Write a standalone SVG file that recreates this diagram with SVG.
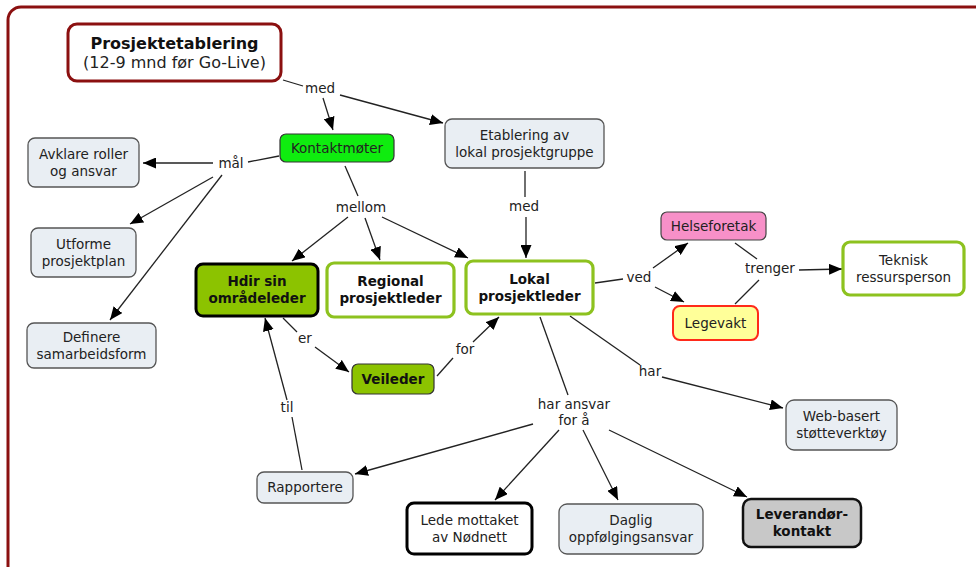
<svg xmlns="http://www.w3.org/2000/svg" width="976" height="567" viewBox="0 0 976 567">
<defs>
<marker id="ah" markerUnits="userSpaceOnUse" markerWidth="13" markerHeight="11" refX="13" refY="5.5" orient="auto">
<path d="M0,0 L13,5.5 L0,11 z" fill="#000"/>
</marker>
<style>
text{font-family:"DejaVu Sans","Liberation Sans",sans-serif;font-size:13.5px;fill:#222;text-anchor:middle}
.b{font-weight:bold;fill:#111}
.t{font-size:16px}
.lp{fill:#222}
.plain{fill:#e9eef3;stroke:#555;stroke-width:1.3}
.grn{fill:#fff;stroke:#8dc21f;stroke-width:3.2}
.lines line{stroke:#222;stroke-width:1.3;fill:none}
.arr{marker-end:url(#ah)}
</style>
</defs>
<rect x="0" y="0" width="976" height="567" fill="#fff"/>
<rect x="8" y="7" width="1000" height="580" rx="13" fill="none" stroke="#8b1010" stroke-width="3"/>

<g id="connectors" class="lines">
<line x1="283" y1="80" x2="303" y2="86"/>
<line class="arr" x1="323" y1="98" x2="333" y2="130"/>
<line class="arr" x1="340" y1="95" x2="443" y2="123"/>
<line x1="279" y1="156" x2="248" y2="162"/>
<line class="arr" x1="213" y1="163" x2="143" y2="163"/>
<line class="arr" x1="213" y1="177" x2="130" y2="224"/>
<line class="arr" x1="222" y1="175" x2="110" y2="320"/>
<line x1="345" y1="166" x2="358" y2="196"/>
<line class="arr" x1="348" y1="217" x2="292" y2="261"/>
<line class="arr" x1="365" y1="218" x2="380" y2="260"/>
<line class="arr" x1="382" y1="217" x2="468" y2="258"/>
<line x1="525" y1="171" x2="525" y2="197"/>
<line class="arr" x1="526" y1="217" x2="526" y2="258"/>
<line x1="595" y1="283" x2="623" y2="279"/>
<line class="arr" x1="653" y1="268" x2="688" y2="243"/>
<line class="arr" x1="655" y1="287" x2="684" y2="302"/>
<line x1="735" y1="243" x2="757" y2="259"/>
<line x1="735" y1="304" x2="759" y2="280"/>
<line class="arr" x1="799" y1="270" x2="842" y2="269"/>
<line x1="283" y1="318" x2="297" y2="332"/>
<line class="arr" x1="315" y1="347" x2="349" y2="372"/>
<line x1="437" y1="376" x2="453" y2="358"/>
<line class="arr" x1="473" y1="342" x2="499" y2="317"/>
<line x1="302" y1="470" x2="292" y2="417"/>
<line class="arr" x1="287" y1="400" x2="265" y2="318"/>
<line x1="570" y1="316" x2="640" y2="365"/>
<line class="arr" x1="662" y1="377" x2="783" y2="408"/>
<line x1="540" y1="317" x2="568" y2="395"/>
<line class="arr" x1="533" y1="424" x2="355" y2="474"/>
<line class="arr" x1="559" y1="430" x2="495" y2="500"/>
<line class="arr" x1="583" y1="430" x2="618" y2="500"/>
<line class="arr" x1="609" y1="430" x2="747" y2="497"/>
</g>

<g id="linking-phrases">
<text class="lp" x="320" y="93">med</text>
<text class="lp" x="231" y="168">mål</text>
<text class="lp" x="361" y="212">mellom</text>
<text class="lp" x="524" y="211">med</text>
<text class="lp" x="639" y="282">ved</text>
<text class="lp" x="770" y="273">trenger</text>
<text class="lp" x="305" y="343">er</text>
<text class="lp" x="465" y="354">for</text>
<text class="lp" x="287" y="412">til</text>
<text class="lp" x="650" y="376">har</text>
<text class="lp" x="574" y="409">har ansvar</text>
<text class="lp" x="574" y="425">for å</text>
</g>

<g id="prosjektetablering">
<rect x="68" y="24" width="213" height="57" rx="9" fill="#fff" stroke="#8b1010" stroke-width="3"/>
<text class="b t" x="174.5" y="49">Prosjektetablering</text>
<text class="t" x="174.5" y="68">(12-9 mnd før Go-Live)</text>
</g>
<g id="kontaktmoter">
<rect x="280" y="134" width="114" height="28" rx="6" fill="#0fec0f" stroke="#333" stroke-width="1.2"/>
<text x="337" y="153">Kontaktmøter</text>
</g>
<g id="etablering">
<rect class="plain" x="445" y="119" width="159" height="49" rx="7"/>
<text x="524.5" y="139.5">Etablering av</text>
<text x="524.5" y="156.5">lokal prosjektgruppe</text>
</g>
<g id="avklare">
<rect class="plain" x="28" y="138" width="111" height="49" rx="7"/>
<text x="83.5" y="158.5">Avklare roller</text>
<text x="83.5" y="175.5">og ansvar</text>
</g>
<g id="utforme">
<rect class="plain" x="31" y="228" width="105" height="49" rx="7"/>
<text x="83.5" y="248.5">Utforme</text>
<text x="83.5" y="265.5">prosjektplan</text>
</g>
<g id="definere">
<rect class="plain" x="27" y="323" width="129" height="45" rx="7"/>
<text x="91.5" y="341.5">Definere</text>
<text x="91.5" y="358.5">samarbeidsform</text>
</g>
<g id="hdir">
<rect x="196" y="264" width="122" height="52" rx="7" fill="#8cc300" stroke="#000" stroke-width="3"/>
<text class="b" x="257" y="286">Hdir sin</text>
<text class="b" x="257" y="303">områdeleder</text>
</g>
<g id="regional">
<rect class="grn" x="327" y="263" width="127" height="54" rx="7"/>
<text class="b" x="390.5" y="286">Regional</text>
<text class="b" x="390.5" y="303">prosjektleder</text>
</g>
<g id="lokal">
<rect class="grn" x="466" y="261" width="127" height="53" rx="7"/>
<text class="b" x="529.5" y="283.5">Lokal</text>
<text class="b" x="529.5" y="300.5">prosjektleder</text>
</g>
<g id="veileder">
<rect x="352" y="364" width="82" height="30" rx="6" fill="#8cc300" stroke="#333" stroke-width="1.2"/>
<text class="b" x="393" y="384">Veileder</text>
</g>
<g id="helseforetak">
<rect x="661" y="212" width="105" height="28" rx="6" fill="#f790c8" stroke="#444" stroke-width="1.2"/>
<text x="713.5" y="231">Helseforetak</text>
</g>
<g id="legevakt">
<rect x="673" y="306" width="85" height="34" rx="7" fill="#ffff99" stroke="#ff2a1a" stroke-width="2"/>
<text x="715.5" y="328">Legevakt</text>
</g>
<g id="teknisk">
<rect class="grn" x="843" y="242" width="121" height="53" rx="7"/>
<text x="903.5" y="264.5">Teknisk</text>
<text x="903.5" y="281.5">ressursperson</text>
</g>
<g id="web">
<rect class="plain" x="786" y="400" width="111" height="50" rx="8"/>
<text x="841.5" y="421">Web-basert</text>
<text x="841.5" y="438">støtteverktøy</text>
</g>
<g id="leverandor">
<rect x="743" y="499" width="118" height="48" rx="8" fill="#c8c8c8" stroke="#111" stroke-width="2.5"/>
<text class="b" x="802" y="519">Leverandør-</text>
<text class="b" x="802" y="536">kontakt</text>
</g>
<g id="rapportere">
<rect class="plain" x="257" y="472" width="96" height="31" rx="7"/>
<text x="305" y="492">Rapportere</text>
</g>
<g id="lede">
<rect x="407" y="503" width="125" height="51" rx="7" fill="#fff" stroke="#000" stroke-width="3"/>
<text x="469.5" y="524.5">Lede mottaket</text>
<text x="469.5" y="541.5">av Nødnett</text>
</g>
<g id="daglig">
<rect class="plain" x="559" y="504" width="144" height="50" rx="8"/>
<text x="631" y="525">Daglig</text>
<text x="631" y="542">oppfølgingsansvar</text>
</g>
</svg>
